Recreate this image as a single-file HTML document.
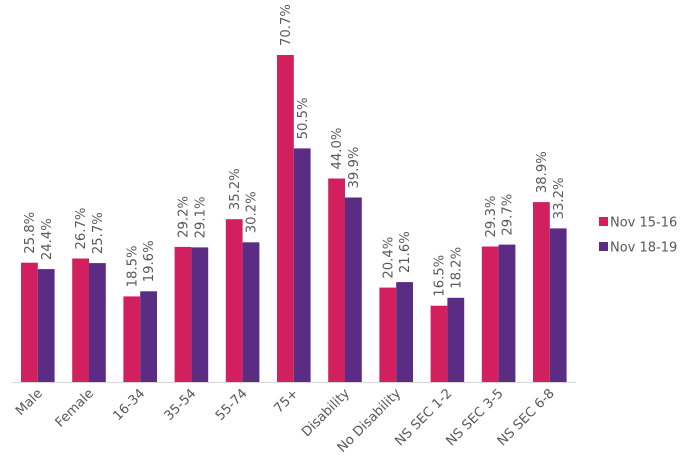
<!DOCTYPE html>
<html><head><meta charset="utf-8"><style>body{margin:0;background:#fff}svg{display:block}</style></head>
<body>
<svg width="685" height="468" xmlns="http://www.w3.org/2000/svg" font-family="DejaVu Sans, Liberation Sans, sans-serif" fill="#595959" font-size="13.2">
<line x1="12" y1="382.5" x2="576" y2="382.5" stroke="#d9d9d9" stroke-width="1"/>
<g fill="#D21F5D">
<rect x="21" y="262.7" width="16.8" height="119.3"/>
<rect x="72.2" y="258.5" width="16.8" height="123.5"/>
<rect x="123.4" y="296.4" width="16.8" height="85.6"/>
<rect x="174.6" y="246.9" width="16.8" height="135.1"/>
<rect x="225.8" y="219.2" width="16.8" height="162.8"/>
<rect x="277" y="55" width="16.8" height="327"/>
<rect x="328.2" y="178.5" width="16.8" height="203.5"/>
<rect x="379.4" y="287.6" width="16.8" height="94.4"/>
<rect x="430.6" y="305.7" width="16.8" height="76.3"/>
<rect x="481.8" y="246.5" width="16.8" height="135.5"/>
<rect x="533" y="202.1" width="16.8" height="179.9"/>
</g>
<g fill="#5B2C84">
<rect x="37.8" y="269.1" width="16.8" height="112.9"/>
<rect x="89" y="263.1" width="16.8" height="118.9"/>
<rect x="140.2" y="291.3" width="16.8" height="90.7"/>
<rect x="191.4" y="247.4" width="16.8" height="134.6"/>
<rect x="242.6" y="242.3" width="16.8" height="139.7"/>
<rect x="293.8" y="148.4" width="16.8" height="233.6"/>
<rect x="345" y="197.5" width="16.8" height="184.5"/>
<rect x="396.2" y="282.1" width="16.8" height="99.9"/>
<rect x="447.4" y="297.8" width="16.8" height="84.2"/>
<rect x="498.6" y="244.6" width="16.8" height="137.4"/>
<rect x="549.8" y="228.4" width="16.8" height="153.6"/>
</g>
<text transform="translate(34,253.7) rotate(-90)">25.8%</text>
<text transform="translate(85.2,249.5) rotate(-90)">26.7%</text>
<text transform="translate(136.4,287.4) rotate(-90)">18.5%</text>
<text transform="translate(187.6,237.9) rotate(-90)">29.2%</text>
<text transform="translate(238.8,210.2) rotate(-90)">35.2%</text>
<text transform="translate(290,46) rotate(-90)">70.7%</text>
<text transform="translate(341.2,169.5) rotate(-90)">44.0%</text>
<text transform="translate(392.4,278.6) rotate(-90)">20.4%</text>
<text transform="translate(443.6,296.7) rotate(-90)">16.5%</text>
<text transform="translate(494.8,237.5) rotate(-90)">29.3%</text>
<text transform="translate(546,193.1) rotate(-90)">38.9%</text>
<text transform="translate(50.8,260.1) rotate(-90)">24.4%</text>
<text transform="translate(102,254.1) rotate(-90)">25.7%</text>
<text transform="translate(153.2,282.3) rotate(-90)">19.6%</text>
<text transform="translate(204.4,238.4) rotate(-90)">29.1%</text>
<text transform="translate(255.6,233.3) rotate(-90)">30.2%</text>
<text transform="translate(306.8,139.4) rotate(-90)">50.5%</text>
<text transform="translate(358,188.5) rotate(-90)">39.9%</text>
<text transform="translate(409.2,273.1) rotate(-90)">21.6%</text>
<text transform="translate(460.4,288.8) rotate(-90)">18.2%</text>
<text transform="translate(511.6,235.6) rotate(-90)">29.7%</text>
<text transform="translate(562.8,219.4) rotate(-90)">33.2%</text>
<g text-anchor="end">
<text transform="translate(43,394) rotate(-45)">Male</text>
<text transform="translate(94.2,394) rotate(-45)">Female</text>
<text transform="translate(145.4,394) rotate(-45)">16-34</text>
<text transform="translate(196.6,394) rotate(-45)">35-54</text>
<text transform="translate(247.8,394) rotate(-45)">55-74</text>
<text transform="translate(299,394) rotate(-45)">75+</text>
<text transform="translate(350.2,394) rotate(-45)">Disability</text>
<text transform="translate(401.4,394) rotate(-45)">No Disability</text>
<text transform="translate(452.6,394) rotate(-45)">NS SEC 1-2</text>
<text transform="translate(503.8,394) rotate(-45)">NS SEC 3-5</text>
<text transform="translate(555,394) rotate(-45)">NS SEC 6-8</text>
</g>
<rect x="599" y="217" width="9" height="9" fill="#D21F5D"/>
<text x="610" y="226.5" font-size="13">Nov 15-16</text>
<rect x="599" y="242" width="9" height="9" fill="#5B2C84"/>
<text x="610" y="251.5" font-size="13">Nov 18-19</text>
</svg>
</body></html>
